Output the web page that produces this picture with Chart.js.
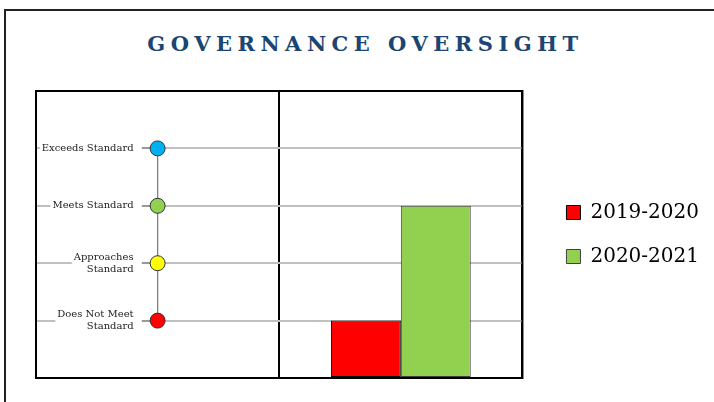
<!DOCTYPE html>
<html lang="en">
<head>
<meta charset="UTF-8">
<title>Governance Oversight</title>
<script src="https://cdn.jsdelivr.net/npm/chart.js"></script>
<style>
  html, body { margin: 0; padding: 0; background: #fff; overflow: hidden; }
  body { width: 714px; height: 402px; position: relative; }
  .frame { position: absolute; left: 4px; top: 9px; width: 800px; height: 500px; border-left: 2px solid #222; border-top: 2px solid #222; }
  .title { position: absolute; left: 0; top: 31px; width: 731px; text-align: center; font: bold 21px "DejaVu Serif", serif; letter-spacing: 5.5px; color: #1b4572; }
  .wrap { position: absolute; left: 0; top: 0; width: 714px; height: 402px; }
</style>
</head>
<body>
<div class="frame"></div>
<div class="title">GOVERNANCE OVERSIGHT</div>
<div class="wrap"><canvas id="chart"></canvas></div>

<script>
  // data
  const panels = ['Scale', 'Rating'];
  const levelNames = [['Exceeds Standard'], ['Meets Standard'], ['Approaches', 'Standard'], ['Does Not Meet', 'Standard']];
  const levelValues = [4, 3, 2, 1];
  const levelColors = ['#00b0f0', '#92d050', '#ffff00', '#ff0000'];
  const years = ['2019-2020', '2020-2021'];
  const ratings = [1, 3];
  const yearColors = ['#ff0000', '#92d050'];
  const yearBorders = ['#000000', '#404040'];

  const TICK_LEN = 16;

  // frame around the plot area
  const framePlugin = {
    id: 'frame',
    afterDatasetsDraw(chart) {
      const { ctx, chartArea: a } = chart;
      ctx.save();
      ctx.strokeStyle = '#000';
      ctx.lineWidth = 2;
      ctx.strokeRect(a.left, a.top, a.right - a.left, a.bottom - a.top);
      ctx.restore();
    }
  };

  // level names next to the scale, on a white box over the grid lines
  const levelLabels = {
    id: 'levelLabels',
    beforeDatasetsDraw(chart) {
      const { ctx, scales } = chart;
      const axisX = scales.x.getPixelForValue(0);
      const right = axisX - TICK_LEN - 8;
      const lh = 12;
      ctx.save();
      ctx.font = '10px "DejaVu Serif"';
      ctx.textAlign = 'right';
      ctx.textBaseline = 'middle';
      levelValues.forEach((v, i) => {
        const lines = levelNames[i];
        const y = scales.y.getPixelForValue(v);
        const w = Math.max(...lines.map(l => ctx.measureText(l).width));
        const top = y - lines.length * lh / 2;
        ctx.fillStyle = '#fff';
        ctx.fillRect(right - w - 2, top - 1, w + 2 + (axisX - TICK_LEN - right), lines.length * lh + 2);
        ctx.fillStyle = '#222';
        lines.forEach((l, k) => ctx.fillText(l, right, top + lh / 2 + k * lh));
      });
      ctx.restore();
    }
  };

  const barSets = years.map((y, i) => ({
    type: 'bar',
    label: y,
    data: panels.map((p, j) => (j === 1 ? ratings[i] : null)),
    backgroundColor: yearColors[i],
    borderColor: yearBorders[i],
    borderWidth: 1,
    borderSkipped: false,
    barPercentage: 1,
    categoryPercentage: 0.575
  }));

  new Chart(document.getElementById('chart'), {
    data: {
      labels: panels,
      datasets: [
        {
          type: 'line',
          label: 'levels',
          data: levelValues.map(v => ({ x: panels[0], y: v })),
          borderColor: '#808080',
          borderWidth: 1,
          pointRadius: 7.5,
          pointHoverRadius: 7.5,
          pointBackgroundColor: levelColors,
          pointBorderColor: '#333',
          pointBorderWidth: 1
        },
        ...barSets
      ]
    },
    options: {
      responsive: true,
      maintainAspectRatio: false,
      animation: false,
      layout: { padding: { top: 91, bottom: 24, left: 36, right: 5 } },
      plugins: {
        title: { display: false },
        tooltip: { enabled: false },
        legend: {
          position: 'right',
          maxWidth: 220,
          labels: {
            filter: item => item.datasetIndex > 0,
            boxWidth: 14,
            boxHeight: 14,
            padding: 24,
            color: '#000',
            font: { family: 'DejaVu Serif', size: 20 }
          }
        }
      },
      scales: {
        x: {
          type: 'category',
          offset: true,
          ticks: { display: false },
          grid: { offset: true, color: '#000', lineWidth: 2, drawTicks: false },
          border: { display: false }
        },
        y: {
          min: 0,
          max: 5,
          position: { x: 0 },
          ticks: { stepSize: 1, display: false },
          grid: {
            color: c => (c.tick && c.tick.value > 0 && c.tick.value < 5 ? '#c0c0c0' : 'rgba(0,0,0,0)'),
            tickColor: c => (c.tick && c.tick.value > 0 && c.tick.value < 5 ? '#999' : 'rgba(0,0,0,0)'),
            lineWidth: 2,
            tickLength: TICK_LEN
          },
          border: { display: false }
        },
        y2: {
          position: 'right',
          ticks: { display: false },
          grid: { drawOnChartArea: false, drawTicks: false },
          border: { display: false },
          afterFit: s => { s.width = 20; }
        }
      }
    },
    plugins: [framePlugin, levelLabels]
  });
</script>
</body>
</html>
